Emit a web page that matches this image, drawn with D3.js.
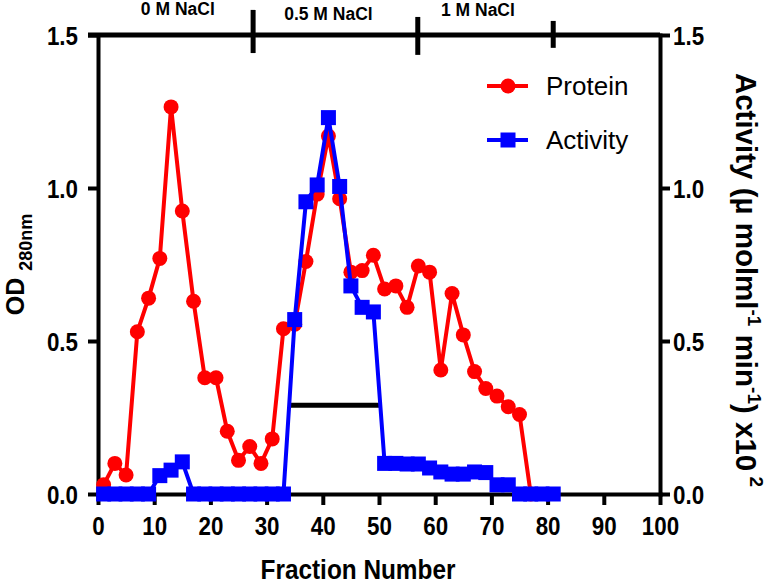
<!DOCTYPE html>
<html>
<head>
<meta charset="utf-8">
<script src="https://cdn.jsdelivr.net/npm/d3@7"></script>
<style>
  html, body { margin: 0; padding: 0; background: #fff; }
  svg { display: block; font-family: "Liberation Sans", Arial, Helvetica, sans-serif; }
</style>
</head>
<body>
<svg id="chart" width="783" height="587"></svg>
<script>
// ---------------- data ----------------
const proteinFractions = [1,3,5,7,9,11,13,15,17,19,21,23,25,27,29,31,33,35,37,39,41,43,45,47,49,51,53,55,57,59,61,63,65,67,69,71,73,75,77];
const proteinOD = [0.03,0.10,0.062,0.53,0.64,0.77,1.265,0.925,0.63,0.38,0.38,0.205,0.11,0.155,0.10,0.18,0.54,0.555,0.76,0.98,1.17,0.965,0.725,0.73,0.78,0.67,0.68,0.61,0.745,0.725,0.405,0.655,0.52,0.40,0.345,0.32,0.285,0.26,0.0];

const activityFractions = [1,3,5,7,9,11,13,15,17,19,21,23,25,27,29,31,33,35,37,39,41,43,45,47,49,51,53,55,57,59,61,63,65,67,69,71,73,75,77,79,81];
const activityValues = [0,0,0,0,0,0.06,0.078,0.105,0,0,0,0,0,0,0,0,0,0.57,0.955,1.01,1.23,1.005,0.68,0.61,0.595,0.10,0.10,0.098,0.098,0.085,0.072,0.065,0.065,0.072,0.07,0.03,0.03,0,0,0,0];

const xTicks = [0,10,20,30,40,50,60,70,80,90,100];
const yTicks = [0.0,0.5,1.0,1.5];

const naclLabels = ["0 M NaCl","0.5 M NaCl","1 M NaCl"];
const naclLabelCenters = [14.2, 41.0, 67.6];      // fraction positions of the step labels
const naclLabelValues = [1.565, 1.55, 1.563];     // vertical placement in OD units
const naclDividers = [27.6, 56.9, 81.0];          // fraction positions of the gradient steps
const dividerSpans = [[1.582,1.441],[1.559,1.435],[1.546,1.458]];

const poolRange = [34, 50];   // pooled fractions bar
const poolLevel = 0.29;

const seriesNames = ["Protein","Activity"];

// ---------------- layout ----------------
const svg = d3.select("#chart");
const x = d3.scaleLinear().domain([0,100]).range([98,660]);
const y = d3.scaleLinear().domain([0,1.5]).range([494,35]);
const yR = d3.scaleLinear().domain([0,1.5]).range([494,35]);

const RED = "#ff0000", BLUE = "#0000ff";
const AXW = 4;
const SX = 0.86;   // horizontal condensing of the narrow bold tick font

function styleAxis(g, offsetX){
  g.selectAll(".domain").attr("stroke","#000").attr("stroke-width",AXW).attr("stroke-linecap","square");
  g.selectAll(".tick line").attr("stroke","#000").attr("stroke-width",AXW);
  g.selectAll(".tick text").attr("fill","#000").attr("font-weight","bold").attr("font-size",26)
    .attr("transform",`scale(${SX},1)`);
  if(offsetX !== undefined) g.selectAll(".tick text").attr("x", offsetX / SX);
}

const gx = svg.append("g").attr("transform",`translate(0,${y(0)})`)
  .call(d3.axisBottom(x).tickValues(xTicks).tickSize(11).tickSizeOuter(0).tickPadding(12).tickFormat(d3.format("d")));
styleAxis(gx);

const gy = svg.append("g").attr("transform",`translate(${x(0)},0)`)
  .call(d3.axisLeft(y).tickValues(yTicks).tickSize(10).tickSizeOuter(0).tickPadding(8).tickFormat(d3.format(".1f")));
styleAxis(gy, -20);
gy.selectAll(".tick text").attr("dy","0.36em");

const gyR = svg.append("g").attr("transform",`translate(${x(100)},0)`)
  .call(d3.axisRight(yR).tickValues(yTicks).tickSize(10).tickSizeOuter(0).tickPadding(4).tickFormat(d3.format(".1f")));
styleAxis(gyR, 13);
gyR.selectAll(".tick text").attr("dy","0.36em");

// top gradient line
svg.append("line")
  .attr("x1",x(0)-10).attr("x2",x(100)).attr("y1",y(1.5)).attr("y2",y(1.5))
  .attr("stroke","#000").attr("stroke-width",AXW+1);

svg.selectAll(".div").data(naclDividers).join("line")
  .attr("x1",d=>x(d)).attr("x2",d=>x(d))
  .attr("y1",(d,i)=>y(dividerSpans[i][0])).attr("y2",(d,i)=>y(dividerSpans[i][1]))
  .attr("stroke","#000").attr("stroke-width",5);

svg.selectAll(".nacl").data(naclLabels).join("text")
  .attr("x",(d,i)=>x(naclLabelCenters[i]))
  .attr("y",(d,i)=>y(naclLabelValues[i]))
  .attr("text-anchor","middle").attr("font-weight","bold").attr("font-size",17.5)
  .text(d=>d);

// pooled bar
svg.append("line")
  .attr("x1",x(poolRange[0])).attr("x2",x(poolRange[1]))
  .attr("y1",y(poolLevel)).attr("y2",y(poolLevel))
  .attr("stroke","#000").attr("stroke-width",5);

const protein = proteinFractions.map((f,i)=>({f, v:proteinOD[i]}));
const activity = activityFractions.map((f,i)=>({f, v:activityValues[i]}));

svg.append("path").datum(protein)
  .attr("d", d3.line().x(d=>x(d.f)).y(d=>y(d.v)))
  .attr("fill","none").attr("stroke",RED).attr("stroke-width",4).attr("stroke-linejoin","round");
svg.selectAll(".pc").data(protein).join("circle")
  .attr("cx",d=>x(d.f)).attr("cy",d=>y(d.v)).attr("r",7.5).attr("fill",RED);

svg.append("path").datum(activity)
  .attr("d", d3.line().x(d=>x(d.f)).y(d=>yR(d.v)))
  .attr("fill","none").attr("stroke",BLUE).attr("stroke-width",4).attr("stroke-linejoin","round");
const SQ = 15;
svg.selectAll(".as").data(activity).join("rect")
  .attr("x",d=>x(d.f)-SQ/2).attr("y",d=>yR(d.v)-SQ/2).attr("width",SQ).attr("height",SQ).attr("fill",BLUE);

// legend
const legend = svg.append("g");
const legY = [86,140];
const legColors = [RED,BLUE];
seriesNames.forEach((name,i)=>{
  const g = legend.append("g").attr("transform",`translate(0,${legY[i]})`);
  g.append("line").attr("x1",487).attr("x2",528).attr("y1",0).attr("y2",0)
    .attr("stroke",legColors[i]).attr("stroke-width",4);
  if(i===0) g.append("circle").attr("cx",508).attr("cy",0).attr("r",7.5).attr("fill",RED);
  else g.append("rect").attr("x",508-SQ/2).attr("y",-SQ/2).attr("width",SQ).attr("height",SQ).attr("fill",BLUE);
  g.append("text").attr("x",546).attr("y",9).attr("font-size",26).attr("fill","#000").text(name);
});

// axis titles
const TX = 0.87;
svg.append("text").attr("transform",`scale(${TX},1)`).attr("x",358/TX).attr("y",579).attr("text-anchor","middle")
  .attr("font-weight","bold").attr("font-size",28).text("Fraction Number");

const yl = svg.append("text").attr("transform",`translate(24,${(y(0)+y(1.5))/2}) rotate(-90)`)
  .attr("text-anchor","middle").attr("font-weight","bold").attr("font-size",25);
yl.append("tspan").text("OD ");
yl.append("tspan").attr("font-size",18).attr("dy",8).text("280nm");

const yr = svg.append("text").attr("transform",`translate(736,280) rotate(90)`)
  .attr("text-anchor","middle").attr("font-weight","bold").attr("font-size",29.5);
yr.append("tspan").text("Activity (µ molml");
yr.append("tspan").attr("font-size",19).attr("dy",-12).text("-1");
yr.append("tspan").attr("dy",12).text(" min");
yr.append("tspan").attr("font-size",19).attr("dy",-12).text("-1");
yr.append("tspan").attr("dy",12).text(") x10");
yr.append("tspan").attr("font-size",19).attr("dy",-14).text(" 2");
</script>
</body>
</html>
